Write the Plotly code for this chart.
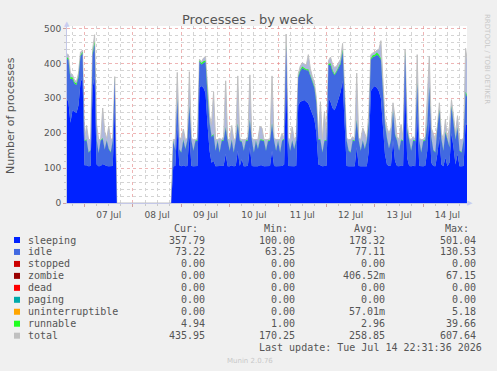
import plotly.graph_objects as go
import pandas as pd

# hourly samples, Jul 6 15:00 -> Jul 14 22:00
times = pd.date_range("2026-07-06 15:00", periods=200, freq="h")

total = (
    [428, 425, 372, 368, 352, 348, 372, 432, 438]
    + [182, 222, 182, 182, 440, 482, 225, 182, 182, 272, 205, 185, 220, 182, 185, 362, 0, 0, 0, 0, 0, 0, 0, 0]
    + [0, 0, 0, 0, 0, 0, 0, 0, 0, 0, 0, 0, 0, 0, 0, 0, 0, 0, 0, 0, 182, 182, 374, 190]
    + [182, 212, 182, 185, 376, 185, 182, 182, 185, 412, 405, 415, 420, 320, 250, 225, 318, 182, 182, 185, 182, 190, 350, 182]
    + [182, 222, 182, 185, 364, 185, 182, 182, 182, 190, 367, 185, 182, 182, 182, 220, 215, 182, 182, 182, 185, 364, 185, 182]
    + [182, 182, 200, 185, 484, 185, 182, 218, 182, 190, 370, 392, 402, 398, 395, 425, 385, 362, 345, 300, 190, 290, 182, 262]
    + [190, 408, 418, 398, 388, 392, 402, 412, 457, 300, 185, 182, 182, 190, 182, 372, 185, 182, 215, 200, 182, 260, 425, 430]
    + [432, 438, 440, 465, 330, 240, 215, 200, 215, 287, 245, 190, 182, 225, 185, 440, 230, 185, 182, 190, 182, 425, 185, 182]
    + [182, 190, 300, 420, 215, 200, 182, 220, 287, 200, 182, 240, 182, 220, 296, 250, 200, 250, 182, 182, 185, 443, 400]
)
sleeping = (
    [300, 290, 230, 265, 262, 258, 280, 345, 360]
    + [108, 108, 105, 106, 330, 362, 110, 105, 106, 112, 108, 106, 105, 105, 106, 280, 0, 0, 0, 0, 0, 0, 0, 0]
    + [0, 0, 0, 0, 0, 0, 0, 0, 0, 0, 0, 0, 0, 0, 0, 0, 0, 0, 0, 0, 105, 106, 220, 108]
    + [105, 108, 105, 106, 200, 106, 105, 105, 106, 330, 335, 330, 315, 225, 150, 115, 120, 105, 105, 105, 105, 107, 140, 105]
    + [105, 108, 105, 106, 150, 106, 125, 105, 105, 107, 160, 106, 105, 105, 105, 108, 108, 105, 105, 105, 106, 150, 106, 105]
    + [105, 105, 106, 110, 360, 106, 105, 106, 105, 107, 280, 290, 292, 295, 290, 285, 270, 255, 240, 200, 110, 108, 105, 106]
    + [107, 300, 290, 272, 266, 280, 300, 318, 350, 210, 106, 105, 105, 107, 105, 160, 106, 105, 106, 105, 105, 150, 320, 330]
    + [335, 330, 320, 300, 220, 140, 110, 106, 108, 180, 120, 106, 105, 108, 106, 345, 130, 106, 105, 107, 105, 260, 106, 105]
    + [105, 107, 150, 250, 115, 106, 105, 140, 190, 110, 105, 130, 105, 115, 200, 160, 110, 140, 105, 105, 106, 230, 220]
)
idle = (
    [115, 120, 125, 90, 80, 80, 80, 75, 70]
    + [70, 72, 40, 45, 95, 95, 70, 38, 72, 72, 45, 72, 50, 40, 72, 75, 0, 0, 0, 0, 0, 0, 0, 0]
    + [0, 0, 0, 0, 0, 0, 0, 0, 0, 0, 0, 0, 0, 0, 0, 0, 0, 0, 0, 0, 72, 45, 75, 45]
    + [40, 72, 50, 72, 75, 72, 45, 72, 72, 75, 62, 72, 90, 85, 80, 75, 75, 45, 72, 40, 72, 72, 75, 72]
    + [45, 72, 40, 72, 75, 72, 50, 45, 72, 72, 75, 72, 40, 72, 50, 72, 72, 72, 45, 72, 72, 75, 72, 45]
    + [72, 40, 72, 72, 90, 72, 45, 72, 50, 72, 80, 88, 95, 88, 90, 95, 95, 90, 90, 85, 72, 72, 40, 72]
    + [72, 95, 105, 105, 100, 95, 88, 80, 85, 80, 72, 45, 40, 72, 72, 75, 72, 45, 72, 50, 72, 80, 90, 88]
    + [85, 95, 100, 110, 95, 85, 75, 50, 72, 80, 75, 72, 45, 72, 72, 85, 80, 72, 45, 72, 72, 80, 72, 40]
    + [72, 72, 75, 80, 72, 45, 40, 72, 75, 72, 45, 72, 72, 45, 75, 72, 72, 75, 45, 40, 72, 85, 80]
)
runnable = (
    [4, 4, 5, 5, 4, 4, 4, 3, 3]
    + [2, 2, 1, 1, 4, 6, 2, 1, 2, 2, 1, 2, 1, 1, 2, 3, 0, 0, 0, 0, 0, 0, 0, 0]
    + [0, 0, 0, 0, 0, 0, 0, 0, 0, 0, 0, 0, 0, 0, 0, 0, 0, 0, 0, 0, 2, 1, 3, 1]
    + [1, 2, 1, 2, 3, 2, 1, 2, 2, 3, 4, 4, 3, 3, 2, 2, 2, 1, 2, 1, 2, 2, 2, 2]
    + [1, 2, 1, 2, 3, 2, 1, 1, 2, 2, 3, 2, 1, 2, 1, 2, 2, 2, 1, 2, 2, 3, 2, 1]
    + [2, 1, 2, 2, 4, 2, 1, 2, 1, 2, 3, 3, 4, 4, 3, 3, 3, 3, 3, 3, 2, 2, 1, 2]
    + [2, 3, 5, 4, 3, 3, 3, 4, 5, 3, 2, 1, 1, 2, 2, 3, 2, 1, 2, 1, 2, 3, 4, 5]
    + [5, 6, 5, 4, 4, 3, 2, 1, 2, 3, 2, 2, 1, 2, 2, 4, 3, 2, 1, 2, 2, 4, 2, 1]
    + [2, 2, 3, 4, 2, 1, 1, 2, 3, 2, 1, 2, 2, 1, 3, 2, 2, 2, 1, 1, 2, 4, 4]
)
# series that stay at zero over the whole week
stopped = [0] * len(times)
zombie = [0] * len(times)
dead = [0] * len(times)
paging = [0] * len(times)
uninterruptible = [0] * len(times)

names = ["sleeping", "idle", "stopped", "zombie", "dead", "paging",
         "uninterruptible", "runnable", "total"]
colors = ["#0022ff", "#4169e1", "#cc0000", "#990000", "#ff0000", "#00aaaa",
          "#ffa500", "#22ff22", "#c0c0c0"]
cur = ["357.79", "73.22", "0.00", "0.00", "0.00", "0.00", "0.00", "4.94", "435.95"]
mins = ["100.00", "63.25", "0.00", "0.00", "0.00", "0.00", "0.00", "1.00", "170.25"]
avgs = ["178.32", "77.11", "0.00", "406.52m", "0.00", "0.00", "57.01m", "2.96", "258.85"]
maxs = ["501.04", "130.53", "0.00", "67.15", "0.00", "0.00", "5.18", "39.66", "607.64"]

stack_values = [sleeping, idle, stopped, zombie, dead, paging, uninterruptible, runnable]

W, H = 497, 371
L, R, T, B = 67, 30, 26, 168
PW, PH = W - L - R, H - T - B


def px(x):
    return (x - L) / PW


def py(y):
    return (H - B - y) / PH


fig = go.Figure()
fig.add_trace(go.Scatter(
    x=times, y=total, mode="lines", fill="tozeroy", fillcolor="#aeb8de",
    line=dict(color="#c0c0c0", width=1), showlegend=False, hoverinfo="skip"))
for name, vals, col in zip(names[:-1], stack_values, colors[:-1]):
    fig.add_trace(go.Scatter(
        x=times, y=vals, mode="lines", stackgroup="procs", fillcolor=col,
        line=dict(color=col, width=0), name=name, showlegend=False))

txt = "#555555"
mono = "DejaVu Sans Mono"
sans = "DejaVu Sans"
ann = []
shapes = []


def label(text, x, y, anchor="center", **kw):
    d = dict(text=text, x=px(x), y=py(y), xref="paper", yref="paper",
             xanchor=anchor, yanchor="middle", showarrow=False)
    d.update(kw)
    ann.append(d)


label("Processes - by week", 248, 19.5, font=dict(family=sans, size=13, color=txt))
label("Number of processes", 11, 115, textangle=-90, font=dict(family=sans, size=11, color=txt))
label("RRDTOOL / TOBI OETIKER", 487, 59, textangle=90, font=dict(family=sans, size=7, color="#c8c8c8"))
label("▲", 66.7, 24, font=dict(family=sans, size=7, color="#c8ccf0"))
label("▶", 470, 203, font=dict(family=sans, size=7, color="#c8ccf0"))

hy = 228
for head, rx in [("Cur:", 200), ("Min:", 290), ("Avg:", 380), ("Max:", 471)]:
    label(head, rx, hy, anchor="right", font=dict(family=mono, size=10, color=txt))

for i, name in enumerate(names):
    yy = 240 + 11.96 * i
    shapes.append(dict(type="rect", xref="paper", yref="paper", x0=px(14), x1=px(20),
                       y0=py(yy - 3), y1=py(yy + 3), fillcolor=colors[i], line=dict(width=0)))
    label(name, 25.5, yy, anchor="left", font=dict(family=mono, size=10, color=txt))
    for val, rx in [(cur[i], 207), (mins[i], 297), (avgs[i], 387), (maxs[i], 478)]:
        label(val, rx, yy, anchor="right", font=dict(family=mono, size=10, color=txt))

label("Last update: Tue Jul 14 22:31:36 2026", 484, 347.7, anchor="right",
      font=dict(family=mono, size=10, color=txt))
label("Munin 2.0.76", 250, 361, font=dict(family=sans, size=7, color="#c8c8c8"))

major_grid = "rgba(225,120,120,0.55)"
minor_grid = "#d4d4d4"

fig.update_layout(
    width=W, height=H, margin=dict(l=L, r=R, t=T, b=B),
    paper_bgcolor="#f0f0f0", plot_bgcolor="#ffffff",
    showlegend=False, annotations=ann, shapes=shapes,
    xaxis=dict(
        type="date", range=["2026-07-06 15:18", "2026-07-14 21:42"],
        tick0="2026-07-07", dtick=86400000, tickformat="%d %b", ticklabelmode="period",
        showgrid=True, gridcolor=major_grid, griddash="dot", gridwidth=1,
        ticks="outside", ticklen=3, tickcolor="#d0a0a0",
        minor=dict(dtick=21600000, showgrid=True, gridcolor=minor_grid, griddash="dot",
                   ticks="outside", ticklen=2, tickcolor="#c8c8c8"),
        showline=True, linecolor="#c4c8e8", linewidth=1, zeroline=False,
        tickfont=dict(family=sans, size=9, color=txt), fixedrange=True,
    ),
    yaxis=dict(
        range=[0, 507], tick0=0, dtick=100,
        showgrid=True, gridcolor=major_grid, griddash="dot", gridwidth=1,
        ticks="outside", ticklen=3, tickcolor="#d0a0a0",
        minor=dict(dtick=20, showgrid=True, gridcolor=minor_grid, griddash="dot",
                   ticks="outside", ticklen=2, tickcolor="#c8c8c8"),
        showline=True, linecolor="#c4c8e8", linewidth=1, zeroline=False,
        tickfont=dict(family=sans, size=9, color=txt), fixedrange=True,
    ),
)

fig.write_html("out.html")
